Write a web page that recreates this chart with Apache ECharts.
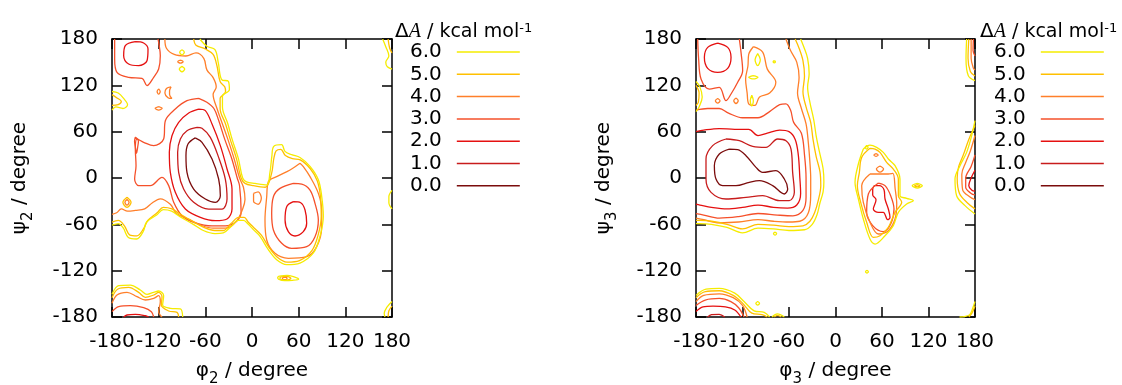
<!DOCTYPE html>
<html>
<head>
<meta charset="utf-8">
<script src="https://cdn.jsdelivr.net/npm/echarts@6/dist/echarts.min.js"></script>
<style>
html,body{margin:0;padding:0;background:#fff;}
#chart{width:1122px;height:385px;}
</style>
</head>
<body>
<div id="chart"></div>
<script>
// ---- contour levels (kcal/mol) ----
const levels = ['6.0','5.0','4.0','3.0','2.0','1.0','0.0'];
const tickValues = [-180,-120,-60,0,60,120,180];

// ===== Plot 1 (phi2, psi2) contour lines, [phi, psi] in degrees =====
const P1_L6 = [
  [[-67,180],[-58,170.5],[-47.6,166.2],[-43.3,149],[-39,127.4],[-30.4,125.2],[-29.1,114.4],[-38,106],[-38,92],[-31,70],[-25.5,50],[-17.5,25],[-12,0],[-7,-5],[3.9,-7],[18.9,-9],[23,6.5],[25.5,28],[28,41],[38.1,43.2],[42.4,34.5],[51,30.2],[61.7,26.5],[74.6,15.1],[85.3,-2.2],[89.6,-23.7],[91.7,-49.6],[87.4,-75.5],[78.9,-97.1],[61.7,-110.1],[44.6,-112.2],[31.7,-105.8],[21,-92.8],[10.3,-75.5],[1.7,-66.9],[-4.7,-60],[-11,-55],[-18,-55],[-26.1,-62],[-36.9,-71],[-47.6,-72],[-62.6,-68],[-75.4,-60],[-92.6,-50],[-103.3,-43],[-114,-41],[-122.6,-48],[-135.4,-57],[-139.7,-69],[-148.3,-79],[-159,-77],[-165.4,-65],[-171.9,-59],[-180,-61]],
  [[-180,112],[-172,110],[-165,103],[-160,95],[-166,90],[-175,92],[-180,88]],
  [[-90,166],[-87,163],[-90,159.5],[-93,163],[-90,166]],
  [[-90,144.5],[-86.5,141],[-90,137.5],[-93.5,141],[-90,144.5]],
  [[35,-127],[45,-126],[55,-128.5],[60,-131],[52,-132.5],[42,-133],[34,-131],[33,-129],[35,-127]],
  [[168,180],[172,170],[176,158],[172,150],[174,144],[180,141]],
  [[180,-16],[176,-24],[176,-32],[180,-40]],
  [[180,-160],[173,-168],[170,-175],[171,-180]],
  [[-180,-150.6],[-171.4,-139.4],[-156.4,-138.6],[-143.6,-145],[-135,-150.6],[-126.4,-148],[-120,-146.3],[-113.6,-152.4],[-114.9,-164.5],[-105,-168.8],[-92.1,-169.6],[-89.1,-180]]
];
const P1_L5 = [
  [[-75,180],[-72,172],[-60,167],[-50,160],[-45,145],[-41,125],[-35,118],[-34,112],[-41,103],[-41,90],[-34,70],[-28,50],[-20,25],[-14,0],[-9,-7],[2,-10],[17,-12],[25,5],[28,25],[31,35],[37,37],[43,29],[52,25],[62,23.5],[75,12],[84,-4],[88,-24],[89,-50],[85,-74],[77,-94],[61,-107],[45,-109],[33,-103],[22,-90],[12,-74],[2,-64],[-5,-57],[-10,-51],[-17,-51],[-27,-59],[-37,-68],[-48,-68],[-62,-64],[-75,-57],[-92,-47],[-103,-40],[-114,-38],[-122,-45],[-134,-55],[-139,-65],[-148,-75],[-157,-74],[-164,-62],[-172,-55],[-180,-57]],
  [[-180,108],[-174,104],[-168,99],[-172,95],[-180,94]],
  [[-160.7,-25],[-155.5,-31.5],[-160.7,-38],[-166,-31.5],[-160.7,-25]],
  [[37,-128],[45,-127.5],[50,-130],[45,-132],[37,-131.5],[36,-129.5],[37,-128]],
  [[175,180],[177,168],[180,162]],
  [[180,-166],[176,-172],[175,-180]],
  [[-180,-155],[-172.3,-143.7],[-158.6,-141.6],[-145.7,-148.1],[-137.1,-154.5],[-126.4,-151.5],[-120,-148.1],[-115.7,-153.7],[-116.6,-164.5],[-107.1,-172.2],[-96.4,-174],[-94.3,-180]]
];
const P1_L4 = [
  [[-112,180],[-110,168],[-100,160],[-85,158],[-72,162],[-62,155],[-58,140],[-50,130],[-46,118],[-50,108],[-45,90],[-38,70],[-31,50],[-23,25],[-16,0],[-11,-12],[-9,-28],[-12,-40],[-20,-56],[-34,-65],[-50,-65],[-66,-61],[-80,-54],[-97,-46],[-105,-34],[-118,-27],[-128,-32],[-138,-40],[-150,-42],[-160,-43],[-168,-40],[-174,-45],[-180,-47]],
  [[61.7,19],[48.9,10.3],[31.7,1.7],[21,-4.8],[18.9,-24.2],[16.7,-54.4],[18.9,-80.3],[29.6,-97.6],[46.7,-104],[70.3,-101.9],[83.2,-88.9],[89.6,-63],[89.6,-41.5],[85.3,-19.9],[74.6,1.7],[66,14.7],[61.7,19]],
  [[-160.7,-28],[-158,-31.5],[-160.7,-35],[-163.4,-31.5],[-160.7,-28]],
  [[-92,152.5],[-88.5,150.6],[-92,148.7],[-95.5,150.6],[-92,152.5]],
  [[-104,118],[-110,116],[-112,110],[-108,104],[-103,103],[-106,108],[-106,113],[-104,118]],
  [[-120,92.5],[-115.5,90.2],[-120,88],[-124.5,90.2],[-120,92.5]],
  [[-120,115.5],[-118,112],[-120,108.5],[-122,112],[-120,115.5]],
  [[2,-20],[8,-18],[12,-26],[8,-34],[2,-30],[2,-20]],
  [[40,-128.5],[44,-128.5],[45,-130],[42,-131.5],[39,-130.5],[40,-128.5]],
  [[-180,-162.3],[-173.6,-151.5],[-160.7,-148.1],[-147.9,-153.7],[-137.1,-158],[-126.4,-155.8],[-120,-152.4],[-117.9,-160.1],[-120,-173.1],[-115.7,-180]]
];
const P1_L3 = [
  [[-68.6,103.2],[-83.6,100.1],[-98.6,89.3],[-111.4,74.2],[-113.6,50.5],[-126.4,41.9],[-139.3,46.2],[-147.9,50.5],[-150,37.5],[-149.1,16],[-150.9,-1.3],[-145.7,-9.9],[-130.7,-9.9],[-115.7,0.8],[-107.1,-9.9],[-100.7,-31.5],[-90,-48.8],[-72.9,-58],[-51.4,-62],[-34.3,-62],[-20,-56],[-14,-44],[-16,-10],[-19,0],[-26,25],[-35,50],[-43,75],[-49,90],[-58,98],[-68.6,103.2]],
  [[-176.6,180],[-176.6,154.1],[-173.6,136.8],[-158.6,130.4],[-141.4,129.1],[-135,119.6],[-126.4,130.4],[-120,141.1],[-117.9,158.4],[-120,175.7],[-120.9,180]],
  [[53.2,-6.9],[36,-13.4],[27.5,-24.2],[25.3,-45.8],[27.5,-67.4],[38.2,-84.6],[51,-91.1],[70.3,-88.9],[81,-76],[85.3,-54.4],[81,-32.8],[74.6,-15.6],[63.9,-7.8],[53.2,-6.9]],
  [[-150,53],[-146,48],[-147,40],[-148.5,32],[-150,40],[-151,48],[-150,53]],
  [[-180,-173.1],[-171.4,-166.6],[-156.4,-165.3],[-139.3,-167.9],[-129.4,-173.1],[-126.4,-180]]
];
const P1_L2 = [
  [[-68.6,89.3],[-81.4,84.2],[-94.3,72.1],[-102.9,54.8],[-106.3,33.2],[-105,7.3],[-98.6,-18.6],[-85.7,-40.2],[-66.4,-51],[-47.1,-55.3],[-32.1,-53.1],[-25.7,-40.2],[-25.7,-14.3],[-32.1,11.6],[-40.7,41.9],[-51.4,69.9],[-60,87.2],[-68.6,89.3]],
  [[-150,176.5],[-162.9,171.4],[-165,158.4],[-158.6,147.6],[-145.7,145.5],[-135,151.9],[-133.7,167],[-139.3,174.8],[-150,176.5]],
  [[53.2,-30.7],[44.6,-37.1],[42.5,-54.4],[46.7,-69.5],[55.3,-75.1],[66,-69.5],[70.3,-58.7],[68.2,-41.5],[62.6,-32],[53.2,-30.7]],
  [[-165,-180],[-160.7,-177.4],[-150,-176.5],[-137.1,-178.3],[-132.9,-180]]
];
const P1_L1 = [
  [[-70.7,65.6],[-83.6,61.3],[-92.1,50.5],[-95.6,33.2],[-94.3,7.3],[-87.9,-14.3],[-75,-31.5],[-55.7,-40.2],[-38.6,-40.2],[-32.1,-27.2],[-34.3,-1.3],[-42.9,26.7],[-53.6,52.6],[-64.3,64.3],[-70.7,65.6]]
];
const P1_L0 = [
  [[-73,52],[-82.3,44],[-84.9,28.9],[-83.6,7.3],[-75,-14.3],[-60,-27.2],[-47.1,-31.5],[-40.7,-22.9],[-42.9,-1.3],[-51.4,24.6],[-64.3,46.2],[-73,52]]
];

// ===== Plot 2 (phi3, psi3) =====
const P2_L6 = [
  [[-45,180],[-41,170],[-36,155],[-34,135],[-36,118],[-33,98],[-28,75],[-25,55],[-21,35],[-16,12],[-15,-5],[-16,-18],[-20,-32],[-24,-48],[-30,-60],[-40,-67],[-60,-68],[-80,-66],[-100,-65],[-120,-71],[-140,-64],[-160,-60],[-175,-59],[-180,-59]],
  [[-180,125],[-175,118],[-172,105],[-176,92],[-180,86]],
  [[-100.4,161],[-97,153],[-100.4,145.5],[-103.8,153],[-100.4,161]],
  [[-106,132.5],[-100,130.4],[-106,128.3],[-112,130.4],[-106,132.5]],
  [[-108,107],[-106,100],[-108,93],[-110,100],[-108,107]],
  [[-79,152],[-77.5,150.6],[-79,149.2],[-80.5,150.6],[-79,152]],
  [[-78,-70],[-76,-72],[-78,-74],[-80,-72],[-78,-70]],
  [[35.9,37.5],[29.5,18.1],[25.2,-5.6],[29.5,-27.2],[35.9,-53.1],[44.5,-79],[51,-85.5],[63.9,-74.7],[74.6,-61.7],[81.1,-44.5],[91.8,-33.7],[100.4,-29.4],[91.8,-26.4],[83.2,-22.9],[83.2,-1.3],[76.8,16],[68.2,24.6],[61.7,33.2],[53.1,39.7],[44.5,42.7],[35.9,37.5]],
  [[40.2,42],[42,39.7],[40.2,37.4],[38.4,39.7],[40.2,42]],
  [[105.6,-7],[112,-10],[105.6,-13],[99,-10],[105.6,-7]],
  [[40.6,-119.5],[42.4,-121.3],[40.6,-123],[38.8,-121.3],[40.6,-119.5]],
  [[-100.4,-160],[-98,-162.3],[-100.4,-164.5],[-102.8,-162.3],[-100.4,-160]],
  [[169.2,180],[168.4,154.1],[171.4,132.5],[180,126]],
  [[180,74.2],[175.7,54.8],[169.2,33.2],[160.6,16],[154.2,-1.3],[156.3,-22.9],[167.1,-35.8],[180,-46.6]],
  [[180,-160],[177,-168.8],[172.7,-177.4],[160,-180]],
  [[-180,-152],[-167,-144],[-150,-143],[-130,-149],[-118,-160],[-105,-172],[-92,-174],[-85,-180]],
  [[-82,-180],[-75,-176],[-66,-180]]
];
const P2_L5 = [
  [[-52,180],[-47,168],[-42,152],[-40,132],[-42,112],[-38,92],[-32,72],[-29,50],[-25,28],[-20,8],[-19,-10],[-22,-28],[-27,-45],[-33,-56],[-42,-62],[-60,-63],[-80,-61],[-100,-60],[-120,-66],[-140,-60],[-160,-56],[-175,-55],[-180,-55]],
  [[-180,120],[-176,110],[-177,98],[-180,94]],
  [[44.5,38.4],[33.8,26.7],[30.8,7.3],[28.2,-9.9],[32.5,-31.5],[40.2,-57.4],[48.8,-76.9],[57.4,-74.7],[68.2,-63.9],[76.8,-44.5],[85.4,-31.5],[81.1,-22.9],[81.1,-1.3],[74.6,11.6],[66,20.3],[57.4,33.2],[51,37.5],[44.5,38.4]],
  [[105.6,-8.5],[109,-10],[105.6,-11.5],[102,-10],[105.6,-8.5]],
  [[172,180],[171,155],[174,138],[180,132]],
  [[180,68],[172,50],[165,30],[159,15],[157,0],[160,-20],[170,-32],[180,-40]],
  [[180,-166],[176,-175],[172,-180]],
  [[-180,-155],[-168,-147],[-150,-146],[-132,-152],[-120,-162],[-108,-175],[-95,-177],[-88,-180]],
  [[-79,-180],[-75,-178],[-70,-180]]
];
const P2_L4 = [
  [[-64,180],[-58,165],[-50,150],[-47,130],[-49,110],[-44,90],[-38,70],[-35,45],[-33,20],[-32,0],[-32,-20],[-35,-45],[-46,-56],[-60,-57],[-80,-56],[-100,-54],[-125,-57],[-150,-58],[-170,-54],[-180,-52]],
  [[-106,170],[-94,163],[-88,141],[-77,124],[-85,110],[-98,105],[-104,94],[-112,96],[-114,110],[-116,128],[-113,145],[-112,160],[-106,170]],
  [[-152,103],[-149,100],[-152,97],[-155,100],[-152,103]],
  [[-128.4,103.5],[-125.5,100],[-128.4,96.5],[-131.3,100],[-128.4,103.5]],
  [[44.5,5.2],[33.8,-9.9],[35.9,-31.5],[44.5,-57.4],[55.3,-72.5],[68.2,-68.2],[76.8,-53.1],[79,-33.7],[77,-14.3],[74,6],[68,5.2],[59.6,5.2],[44.5,5.2]],
  [[57.4,15.5],[62,11.6],[57.4,7.7],[52.8,11.6],[57.4,15.5]],
  [[52.3,31.5],[55,29.8],[52.3,28.1],[49.6,29.8],[52.3,31.5]],
  [[175,180],[175,155],[178,142],[180,140]],
  [[180,55],[174,35],[168,20],[163,5],[164,-15],[174,-25],[180,-28]],
  [[-180,-160],[-170,-152],[-150,-150],[-132,-155],[-120,-165],[-114,-180]]
];
const P2_L3 = [
  [[-180,88],[-165,90],[-150,90],[-138,84],[-120,78],[-100,78],[-85,86],[-72,95],[-64,96],[-58,88],[-54,72],[-44,58],[-40,30],[-38,0],[-38,-25],[-42,-42],[-55,-49],[-75,-48],[-100,-46],[-125,-50],[-150,-52],[-170,-48],[-180,-46]],
  [[-177.8,180],[-176.6,154.1],[-173.5,128.2],[-162.8,115.2],[-149.9,117.4],[-141.3,100.1],[-134.8,108.8],[-126.2,123.9],[-119.8,139],[-121.9,162.7],[-124.1,180]],
  [[55.3,-6.5],[42.4,-20.7],[40.2,-44.5],[48,-61.7],[61.7,-69.5],[71.2,-59.6],[75.5,-40.2],[71.2,-22.9],[63.9,-9.9],[55.3,-6.5]],
  [[178,180],[177.5,165],[180,158]],
  [[180,30],[175,15],[168,0],[168,-12],[175,-20],[180,-22]],
  [[-180,-165],[-168,-158],[-150,-156],[-135,-160],[-125,-168],[-118,-180]]
];
const P2_L2 = [
  [[-180,60],[-170,62],[-150,64],[-130,63],[-112,63],[-100,55],[-88,58],[-72,62],[-60,60],[-52,50],[-48,30],[-46,0],[-45,-20],[-50,-35],[-62,-39],[-80,-38],[-100,-35],[-120,-38],[-140,-40],[-160,-38],[-175,-35],[-180,-34]],
  [[-152,174.8],[-164.9,169.2],[-169.2,156.3],[-164.9,142],[-152,136.8],[-139.1,142],[-134.8,156.3],[-139.1,169.2],[-152,174.8]],
  [[50.1,-9.9],[56.6,-9.9],[62.6,-15.1],[63.9,-27.2],[68.2,-40.2],[70.3,-51],[67.3,-54],[61.7,-44.5],[55.3,-44.5],[48.8,-40.2],[52.3,-28.1],[48,-22],[48,-14.3],[50.1,-9.9]],
  [[180,10],[175,0],[172,-10],[176,-16],[180,-17]],
  [[-180,-173],[-171,-167],[-158,-166],[-142,-167],[-130,-171],[-122,-180]]
];
const P2_L1 = [
  [[-141.3,50.5],[-158.5,41.9],[-167.1,24.6],[-167.1,-1.3],[-160.6,-18.6],[-141.3,-27.2],[-115.5,-25.1],[-94,-22.9],[-72.5,-29.4],[-59.6,-29.4],[-53.1,-18.6],[-55.3,7.3],[-57.4,37.5],[-63.9,48.3],[-74.6,50.5],[-89.7,39.7],[-106.9,41],[-124.1,48.3],[-141.3,50.5]],
  [[-165,-180],[-160,-177],[-150,-176.5],[-143,-180]]
];
const P2_L0 = [
  [[-137,37.5],[-149.9,31.1],[-156.3,16],[-154.2,-1.3],[-145.6,-9.9],[-128.4,-9.9],[-111.2,-5.6],[-98.3,-3.5],[-81.1,-9.9],[-66,-20.7],[-61.7,-14.3],[-66,-1.3],[-76.8,9.5],[-94,7.3],[-102.6,13.8],[-115.5,28.9],[-126.2,36.7],[-137,37.5]]
];

const plot1Levels = [P1_L6, P1_L5, P1_L4, P1_L3, P1_L2, P1_L1, P1_L0];
const plot2Levels = [P2_L6, P2_L5, P2_L4, P2_L3, P2_L2, P2_L1, P2_L0];
const xNames = ['{a|φ}{s|2}{a| / degree}', '{a|φ}{s|3}{a| / degree}'];
const yNames = ['{a|ψ}{s|2}{a| / degree}', '{a|ψ}{s|3}{a| / degree}'];

// ---- styling ----
const levelColors = ['#f5ec00','#ffc000','#ff7f2a','#f5502a','#e51010','#c81c1c','#7b0c0c'];
const FONT = 'DejaVu Sans';
const FS = 20;
const nameRich = {
  a: {fontSize: FS, fontFamily: FONT, color: '#000', lineHeight: 32},
  s: {fontSize: 15, fontFamily: FONT, color: '#000', lineHeight: 15, verticalAlign: 'bottom'}
};

const chart = echarts.init(document.getElementById('chart'), null, {renderer: 'canvas'});

const grids = [
  {left: 112, top: 39, width: 280, height: 278, outerBoundsMode: 'none', containLabel: false},
  {left: 696, top: 39, width: 279, height: 278, outerBoundsMode: 'none', containLabel: false}
];

function axisBase(gridIndex) {
  return {
    type: 'value', gridIndex, min: -180, max: 180, interval: 60,
    axisLine: {show: true, onZero: false, lineStyle: {color: '#000', width: 1.5}},
    axisTick: {show: true, inside: true, length: 10, lineStyle: {color: '#000', width: 1.5}},
    splitLine: {show: false}
  };
}
const xAxes = [], yAxes = [];
[0, 1].forEach(g => {
  xAxes.push(Object.assign(axisBase(g), {
    position: 'bottom',
    axisLabel: {color: '#000', fontSize: FS, fontFamily: FONT, margin: 15, showMinLabel: true, showMaxLabel: true},
    name: xNames[g], nameLocation: 'middle', nameGap: 38,
    nameTextStyle: {rich: nameRich}
  }));
  xAxes.push(Object.assign(axisBase(g), {position: 'top', axisLabel: {show: false}}));
  yAxes.push(Object.assign(axisBase(g), {
    position: 'left',
    axisLabel: {color: '#000', fontSize: FS, fontFamily: FONT, margin: 14, showMinLabel: true, showMaxLabel: true},
    name: yNames[g], nameLocation: 'middle', nameGap: 76,
    nameTextStyle: {rich: nameRich}
  }));
  yAxes.push(Object.assign(axisBase(g), {position: 'right', axisLabel: {show: false}}));
});

const series = [];
[plot1Levels, plot2Levels].forEach((plotLevels, g) => {
  plotLevels.forEach((lines, li) => {
    lines.forEach(line => {
      series.push({
        type: 'line', name: levels[li],
        xAxisIndex: g * 2, yAxisIndex: g * 2,
        data: line, smooth: 0.35, symbol: 'none', showSymbol: false,
        lineStyle: {color: levelColors[li], width: 1.3},
        itemStyle: {color: levelColors[li]},
        silent: true, animation: false, clip: true, z: 10 - li
      });
    });
  });
});

function legendAt(left) {
  return {
    data: levels.map(n => ({name: n, icon: 'rect'})),
    orient: 'vertical', left: left, top: 42, align: 'right',
    itemWidth: 63, itemHeight: 1.5, itemGap: 2.3, padding: 0, selectedMode: false,
    textStyle: {fontSize: FS, fontFamily: FONT, color: '#000', lineHeight: 20, padding: [0, 10, 0, 0]}
  };
}

const titleRich = {
  d: {fontSize: FS, fontFamily: FONT, color: '#000', lineHeight: 20},
  a: {fontSize: FS, fontFamily: 'Liberation Serif', fontStyle: 'italic', color: '#000', lineHeight: 20},
  n: {fontSize: 19, fontFamily: FONT, color: '#000', lineHeight: 20},
  s: {fontSize: 13, fontFamily: FONT, color: '#000', lineHeight: 13, verticalAlign: 'top'}
};
function legendTitle(left) {
  return {type: 'text', left: left, top: 22, style: {text: '{d|Δ}{a|A}{n| / kcal mol}{s|-1}', rich: titleRich}};
}

chart.setOption({
  backgroundColor: '#fff',
  animation: false,
  grid: grids,
  xAxis: xAxes,
  yAxis: yAxes,
  legend: [legendAt(410), legendAt(994)],
  graphic: [legendTitle(395), legendTitle(980)],
  series: series
});
</script>
</body>
</html>
